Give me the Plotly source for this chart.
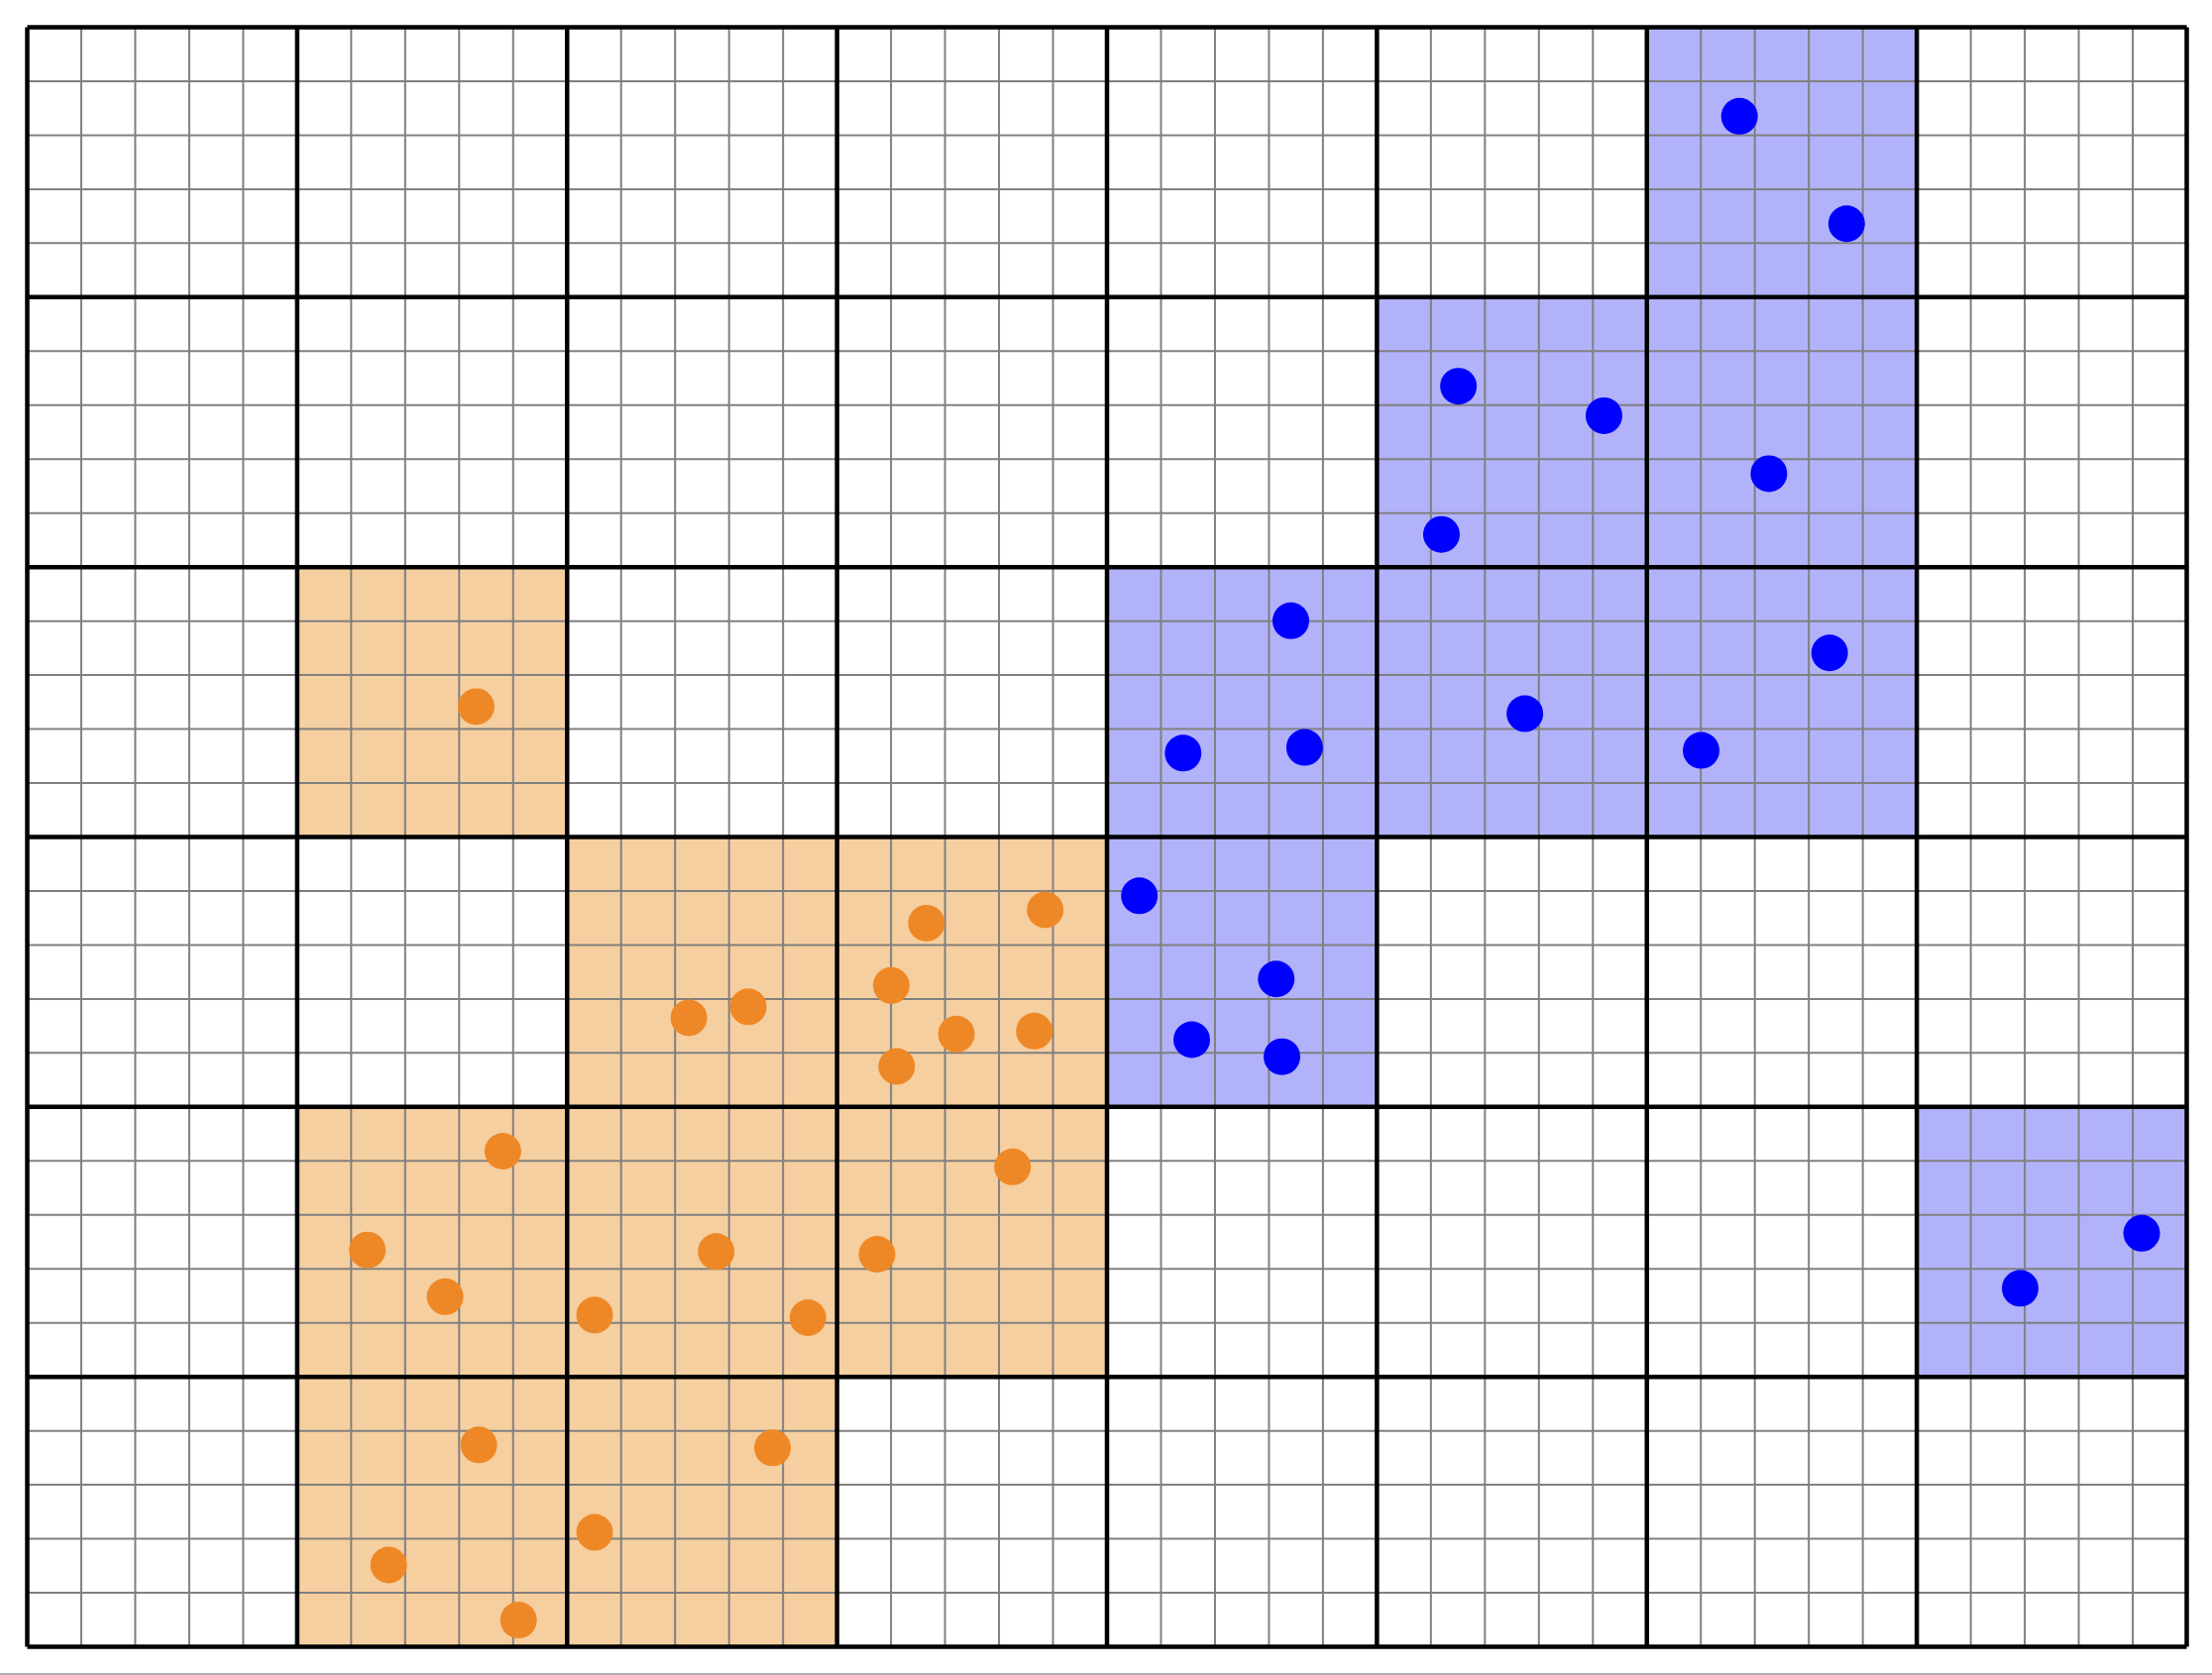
import plotly.graph_objects as go

# ---- data (major-cell units: x 0..8, y 0..6, origin bottom-left) ----
n_cols = 8
n_rows = 6
minor_div = 5

orange_cell_col = [1, 2, 3, 1, 2, 3, 1, 2]
orange_cell_row = [3, 2, 2, 1, 1, 1, 0, 0]
blue_cell_col = [6, 5, 6, 4, 5, 6, 4, 7]
blue_cell_row = [5, 4, 4, 3, 3, 3, 2, 1]

orange_x = [1.663, 3.331, 3.771, 3.201, 2.451, 2.671, 3.442, 3.731, 3.221,
            1.762, 3.650, 1.260, 2.552, 3.148, 1.548, 2.102, 2.892,
            1.673, 2.761, 2.102, 1.339, 1.820]
orange_y = [3.483, 2.681, 2.730, 2.450, 2.330, 2.371, 2.270, 2.281, 2.150,
            1.836, 1.778, 1.470, 1.464, 1.454, 1.297, 1.229, 1.219,
            0.748, 0.737, 0.424, 0.303, 0.099]

blue_x = [6.343, 6.740, 5.302, 5.841, 6.452, 5.239, 4.681, 6.677, 5.548,
          4.282, 4.732, 6.201, 4.120, 4.627, 4.314, 4.648, 7.833, 7.383]
blue_y = [5.670, 5.272, 4.670, 4.561, 4.346, 4.121, 3.801, 3.682, 3.457,
          3.311, 3.332, 3.321, 2.782, 2.474, 2.249, 2.186, 1.532, 1.328]

# ---- styles ----
ORANGE_FILL = "#F6CFA0"
BLUE_FILL = "#B2B2FA"
ORANGE_DOT = "#EE8826"
BLUE_DOT = "#0000FF"
MINOR_COLOR = "#808080"
MAJOR_COLOR = "#000000"

# cell category grid: 0 empty, 1 orange, 2 blue
z = [[0] * n_cols for _ in range(n_rows)]
for c, r in zip(orange_cell_col, orange_cell_row):
    z[r][c] = 1
for c, r in zip(blue_cell_col, blue_cell_row):
    z[r][c] = 2

fig = go.Figure()

fig.add_trace(go.Heatmap(
    z=z,
    x=[c + 0.5 for c in range(n_cols)],
    y=[r + 0.5 for r in range(n_rows)],
    zmin=0, zmax=2,
    colorscale=[[0, "#FFFFFF"], [0.25, "#FFFFFF"], [0.25, ORANGE_FILL],
                [0.75, ORANGE_FILL], [0.75, BLUE_FILL], [1, BLUE_FILL]],
    showscale=False, hoverinfo="skip",
))


def grid_trace(vals_x, vals_y, color, width):
    xs, ys = [], []
    for v in vals_x:
        xs += [v, v, None]
        ys += [0, n_rows, None]
    for v in vals_y:
        xs += [0, n_cols, None]
        ys += [v, v, None]
    return go.Scatter(x=xs, y=ys, mode="lines",
                      line=dict(color=color, width=width),
                      hoverinfo="skip", showlegend=False)


minor_x = [i / minor_div for i in range(n_cols * minor_div + 1) if i % minor_div]
minor_y = [i / minor_div for i in range(n_rows * minor_div + 1) if i % minor_div]
major_x = list(range(n_cols + 1))
major_y = list(range(n_rows + 1))

fig.add_trace(grid_trace(minor_x, minor_y, MINOR_COLOR, 2))
fig.add_trace(grid_trace(major_x, major_y, MAJOR_COLOR, 4.5))

fig.add_trace(go.Scatter(x=orange_x, y=orange_y, mode="markers",
                         marker=dict(color=ORANGE_DOT, size=37, line=dict(width=0)),
                         hoverinfo="skip", showlegend=False))
fig.add_trace(go.Scatter(x=blue_x, y=blue_y, mode="markers",
                         marker=dict(color=BLUE_DOT, size=37, line=dict(width=0)),
                         hoverinfo="skip", showlegend=False))

W, H = 2232, 1690
ml, mr, mt, mb = 24, 22, 24, 25
pw = W - ml - mr
ph = H - mt - mb
padx = 3.5 / (pw / n_cols)
pady = 3.5 / (ph / n_rows)

fig.update_layout(
    width=W, height=H,
    margin=dict(l=ml, r=mr, t=mt, b=mb),
    paper_bgcolor="white", plot_bgcolor="white",
    showlegend=False, hovermode=False,
    xaxis=dict(range=[-padx, n_cols + padx], showgrid=False, zeroline=False,
               showticklabels=False, ticks="", showline=False, fixedrange=True),
    yaxis=dict(range=[-pady, n_rows + pady], showgrid=False, zeroline=False,
               showticklabels=False, ticks="", showline=False, fixedrange=True),
    shapes=[dict(type="line", xref="paper", yref="paper",
                 x0=-ml / pw, x1=(W - ml) / pw,
                 y0=-(1689 - (H - mb)) / ph, y1=-(1689 - (H - mb)) / ph,
                 line=dict(color="#B0B0B0", width=2))],
)

fig.write_html("out.html")
